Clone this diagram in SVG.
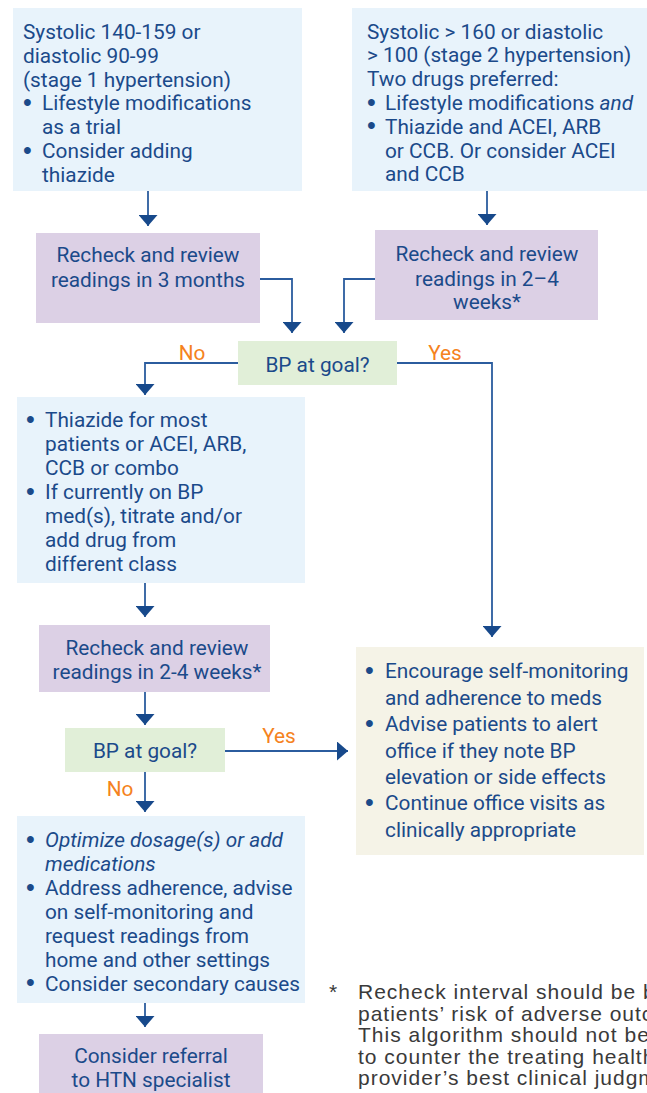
<svg xmlns="http://www.w3.org/2000/svg" width="647" height="1093" viewBox="0 0 647 1093">
<defs>
<style>
.t{font-family:Roboto,"Liberation Sans",Arial,sans-serif;font-size:20.8px;fill:#1b4a8a}
.b{font-family:"Liberation Sans",Arial,sans-serif;font-size:25px;fill:#1b4a8a}
.c{text-anchor:middle}
.i{font-style:italic}
.lbl{font-family:Roboto,"Liberation Sans",Arial,sans-serif;font-size:20.8px;fill:#f58220;text-anchor:middle}
.fn{font-family:"Liberation Sans",Arial,sans-serif;font-size:21px;fill:#3a3a3a;letter-spacing:1px}
.blue{fill:#e8f3fb}
.purple{fill:#dcd0e5}
.green{fill:#e1efd8}
.cream{fill:#f5f3e7}
.ln{fill:none;stroke:#2b5c9e;stroke-width:1.8;marker-end:url(#ah)}
</style>
<marker id="ah" viewBox="0 0 11 19" refX="11" refY="9.5" markerWidth="11" markerHeight="19" markerUnits="userSpaceOnUse" orient="auto">
<path d="M0,0 L11,9.5 L0,19 Z" fill="#17498b"/>
</marker>
</defs>

<g id="connectors">
<path class="ln" d="M148,191 V226"/>
<path class="ln" d="M487,191 V225"/>
<path class="ln" d="M260,279 H292 V333"/>
<path class="ln" d="M375,279 H344 V333"/>
<path class="ln" d="M238,363 H145 V395"/>
<path class="ln" d="M397,363 H492 V637"/>
<path class="ln" d="M145,583 V617"/>
<path class="ln" d="M145,692 V725"/>
<path class="ln" d="M225,751 H348"/>
<path class="ln" d="M145,772 V812"/>
<path class="ln" d="M145,1003 V1027"/>
<text class="lbl" x="192" y="359.5">No</text>
<text class="lbl" x="445" y="360">Yes</text>
<text class="lbl" x="279" y="743">Yes</text>
<text class="lbl" x="120" y="796">No</text>
</g>

<g id="stage1">
<rect class="blue" x="13" y="8" width="289" height="183"/>
<text class="t" x="23" y="39">Systolic 140-159 or</text>
<text class="t" x="23" y="62.8">diastolic 90-99</text>
<text class="t" x="23" y="86.6">(stage 1 hypertension)</text>
<text class="b" x="23" y="111">•</text>
<text class="t" x="42" y="110.4">Lifestyle modifications</text>
<text class="t" x="42" y="134.2">as a trial</text>
<text class="b" x="23" y="158.6">•</text>
<text class="t" x="42" y="158">Consider adding</text>
<text class="t" x="42" y="181.8">thiazide</text>
</g>

<g id="stage2">
<rect class="blue" x="352" y="8" width="295" height="183"/>
<text class="t" x="367" y="38.5">Systolic &gt; 160 or diastolic</text>
<text class="t" x="367" y="62.3">&gt; 100 (stage 2 hypertension)</text>
<text class="t" x="367" y="86.1">Two drugs preferred:</text>
<text class="b" x="367" y="110.5">•</text>
<text class="t" x="385" y="109.9">Lifestyle modifications <tspan class="i">and</tspan></text>
<text class="b" x="367" y="134.3">•</text>
<text class="t" x="385" y="133.7">Thiazide and ACEI, ARB</text>
<text class="t" x="385" y="157.5">or CCB. Or consider ACEI</text>
<text class="t" x="385" y="181.3">and CCB</text>
</g>

<g id="recheck1">
<rect class="purple" x="36" y="233" width="224" height="90"/>
<text class="t c" x="148" y="262">Recheck and review</text>
<text class="t c" x="148" y="287">readings in 3 months</text>
</g>

<g id="recheck2">
<rect class="purple" x="375" y="230" width="223" height="90"/>
<text class="t c" x="487" y="261">Recheck and review</text>
<text class="t c" x="487" y="285.5">readings in 2–4</text>
<text class="t c" x="487" y="309">weeks*</text>
</g>

<g id="goal1">
<rect class="green" x="238" y="341" width="159" height="44"/>
<text class="t c" x="317.5" y="371.5">BP at goal?</text>
</g>

<g id="therapy">
<rect class="blue" x="17" y="397" width="288" height="186"/>
<text class="b" x="26" y="427.9">•</text>
<text class="t" x="45" y="427.3">Thiazide for most</text>
<text class="t" x="45" y="451.3">patients or ACEI, ARB,</text>
<text class="t" x="45" y="475.3">CCB or combo</text>
<text class="b" x="26" y="499.9">•</text>
<text class="t" x="45" y="499.3">If currently on BP</text>
<text class="t" x="45" y="523.3">med(s), titrate and/or</text>
<text class="t" x="45" y="547.3">add drug from</text>
<text class="t" x="45" y="571.3">different class</text>
</g>

<g id="recheck3">
<rect class="purple" x="39" y="625" width="231" height="67"/>
<text class="t c" x="157" y="655">Recheck and review</text>
<text class="t c" x="157" y="678.5">readings in 2-4 weeks*</text>
</g>

<g id="goal2">
<rect class="green" x="65" y="728" width="160" height="44"/>
<text class="t c" x="145" y="758">BP at goal?</text>
</g>

<g id="maintain">
<rect class="cream" x="356" y="647" width="288" height="208"/>
<text class="b" x="365" y="678.9">•</text>
<text class="t" x="385" y="678.3">Encourage self-monitoring</text>
<text class="t" x="385" y="704.7">and adherence to meds</text>
<text class="b" x="365" y="731.7">•</text>
<text class="t" x="385" y="731.1">Advise patients to alert</text>
<text class="t" x="385" y="757.5">office if they note BP</text>
<text class="t" x="385" y="783.9">elevation or side effects</text>
<text class="b" x="365" y="810.9">•</text>
<text class="t" x="385" y="810.3">Continue office visits as</text>
<text class="t" x="385" y="836.7">clinically appropriate</text>
</g>

<g id="optimize">
<rect class="blue" x="17" y="816" width="288" height="187"/>
<text class="b" x="26" y="847.9">•</text>
<text class="t i" x="45" y="847.3">Optimize dosage(s) or add</text>
<text class="t i" x="45" y="871.2">medications</text>
<text class="b" x="26" y="895.7">•</text>
<text class="t" x="45" y="895.1">Address adherence, advise</text>
<text class="t" x="45" y="919">on self-monitoring and</text>
<text class="t" x="45" y="942.9">request readings from</text>
<text class="t" x="45" y="966.8">home and other settings</text>
<text class="b" x="26" y="991.3">•</text>
<text class="t" x="45" y="990.7">Consider secondary causes</text>
</g>

<g id="referral">
<rect class="purple" x="39" y="1034" width="224" height="59"/>
<text class="t c" x="151" y="1063">Consider referral</text>
<text class="t c" x="151" y="1087">to HTN specialist</text>
</g>

<g id="footnote">
<text class="fn" x="329" y="999">*</text>
<text class="fn" x="358" y="999">Recheck interval should be b</text>
<text class="fn" x="358" y="1020.5">patients’ risk of adverse outc</text>
<text class="fn" x="358" y="1042">This algorithm should not be</text>
<text class="fn" x="358" y="1063.5">to counter the treating health</text>
<text class="fn" x="358" y="1085">provider’s best clinical judgm</text>
</g>
</svg>
